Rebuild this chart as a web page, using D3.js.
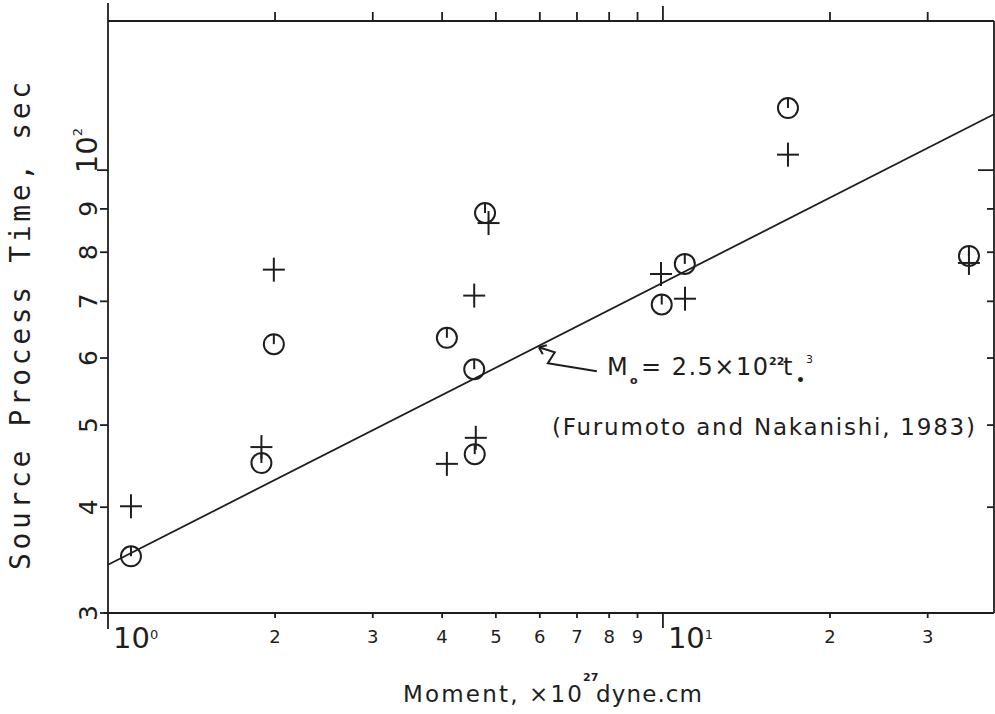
<!DOCTYPE html>
<html>
<head>
<meta charset="utf-8">
<script src="https://cdn.jsdelivr.net/npm/d3@7"></script>
<style>
  body { margin: 0; background: #fff; }
  svg { display: block; }
  text { fill: #1e1e1e; font-family: "DejaVu Sans", sans-serif; }
</style>
</head>
<body>
<svg width="995" height="714"></svg>
<script>
// -------------------- DATA --------------------
// moment in 1e27 dyne.cm, source process time in sec
const circleM = [1.10, 1.99, 1.89, 4.08, 4.57, 4.58, 4.78, 9.95, 10.95, 16.8, 35.6];
const circleT = [35.0, 62.3, 45.1, 63.4, 58.2, 46.2, 89.0, 69.4, 77.5, 118.4, 79.2];
const plusM = [1.10, 1.99, 1.89, 4.08, 4.57, 4.60, 4.85, 9.92, 10.96, 16.8, 35.6];
const plusT = [40.1, 76.3, 47.1, 45.0, 71.1, 48.3, 86.6, 75.4, 70.5, 104.3, 77.7];

// M0 = 2.5e22 t^3 line, end points
const fitM = [1, 39.5];
const fitT = [34.2, 116.4];

const xTicks = [1, 2, 3, 4, 5, 6, 7, 8, 9, 10, 20, 30];
const xLabels = ["10", "2", "3", "4", "5", "6", "7", "8", "9", "10", "2", "3"];
const yTicks = [30, 40, 50, 60, 70, 80, 90, 100];
const yLabels = ["3", "4", "5", "6", "7", "8", "9", "10"];

// -------------------- SCALES --------------------
const svg = d3.select("svg");
const ink = "#1e1e1e";
const L = 108, R = 994, T = 21, B = 613;

const x = d3.scaleLog().domain([1, 39.5]).range([L, R]);
const y = d3.scaleLog().domain([30, 150]).range([B, T]);

const isDecade = v => Math.abs(Math.log10(v) - Math.round(Math.log10(v))) < 1e-9;

// -------------------- FRAME --------------------
const g = svg.append("g").attr("stroke", ink).attr("fill", "none").attr("stroke-width", 1.8);
g.append("line").attr("x1", L).attr("x2", L).attr("y1", 3).attr("y2", B + 16);
g.append("line").attr("x1", L).attr("x2", R).attr("y1", T).attr("y2", T);
g.append("line").attr("x1", L - 4).attr("x2", R).attr("y1", B).attr("y2", B);
g.append("line").attr("x1", R).attr("x2", R).attr("y1", T).attr("y2", B);

// x ticks (bottom outward, top outward)
xTicks.forEach(v => {
  if (v === 1) return;
  const big = isDecade(v);
  g.append("line").attr("x1", x(v)).attr("x2", x(v)).attr("y1", B).attr("y2", B + (big ? 15 : 5));
  g.append("line").attr("x1", x(v)).attr("x2", x(v)).attr("y1", T).attr("y2", T - (big ? 15 : 9));
});

// y ticks (left outward, right inward)
yTicks.forEach(v => {
  const big = isDecade(v);
  g.append("line").attr("x1", L).attr("x2", L - (big ? 11 : 8)).attr("y1", y(v)).attr("y2", y(v));
  if (v !== 30) g.append("line").attr("x1", R).attr("x2", R - (big ? 16 : 7)).attr("y1", y(v)).attr("y2", y(v));
});

// -------------------- TICK LABELS --------------------
xTicks.forEach((v, i) => {
  if (isDecade(v)) {
    const t = svg.append("text").attr("x", x(v) + 5).attr("y", 648).style("font-size", "29px");
    t.append("tspan").text(xLabels[i]);
    t.append("tspan").attr("dy", -9).style("font-size", "13px").text(v === 1 ? "0" : "1");
  } else {
    svg.append("text").attr("x", x(v)).attr("y", 643).attr("text-anchor", "middle")
      .style("font-size", "18px").text(xLabels[i]);
  }
});

yTicks.forEach((v, i) => {
  const gl = svg.append("g").attr("transform", `translate(97,${isDecade(v) ? y(v) + 3 : y(v)}) rotate(-90)`);
  if (isDecade(v)) {
    const t = gl.append("text").style("font-size", "29px");
    t.append("tspan").text(yLabels[i]);
    t.append("tspan").attr("dy", -15).style("font-size", "13px").text("2");
  } else {
    gl.append("text").attr("text-anchor", "middle").style("font-size", "25px").text(yLabels[i]);
  }
});

// -------------------- AXIS TITLES --------------------
svg.append("g").attr("transform", "translate(30,570) rotate(-90)")
  .append("text")
  .style("font-family", "'DejaVu Sans Mono', monospace")
  .style("font-size", "28px")
  .attr("textLength", 488).attr("lengthAdjust", "spacing")
  .text("Source Process Time, sec");

const xt = svg.append("text").attr("y", 702).style("font-size", "23px");
xt.append("tspan").attr("x", 403).attr("textLength", 179).attr("lengthAdjust", "spacing").text("Moment, ×10");
xt.append("tspan").attr("x", 583).attr("y", 681).style("font-size", "11px").style("font-weight", "bold").text("27");
xt.append("tspan").attr("x", 596).attr("y", 702).attr("textLength", 106).attr("lengthAdjust", "spacing").text("dyne.cm");

// -------------------- FIT LINE --------------------
svg.append("line")
  .attr("x1", x(fitM[0])).attr("y1", y(fitT[0]))
  .attr("x2", x(fitM[1])).attr("y2", y(fitT[1]))
  .attr("stroke", ink).attr("stroke-width", 1.8);

// -------------------- POINTS --------------------
const circles = circleM.map((m, i) => ({ m, t: circleT[i] }));
const pluses = plusM.map((m, i) => ({ m, t: plusT[i] }));

const cg = svg.append("g").attr("stroke", ink).attr("fill", "none").attr("stroke-width", 2)
  .selectAll("g").data(circles).enter().append("g")
  .attr("transform", d => `translate(${x(d.m)},${y(d.t)})`);
cg.append("circle").attr("r", 10);
cg.append("line").attr("x1", 0).attr("x2", 0).attr("y1", -10).attr("y2", 0);

const pg = svg.append("g").attr("stroke", ink).attr("stroke-width", 2)
  .selectAll("g").data(pluses).enter().append("g")
  .attr("transform", d => `translate(${x(d.m)},${y(d.t)})`);
pg.append("line").attr("x1", -11).attr("x2", 11).attr("y1", 0).attr("y2", 0);
pg.append("line").attr("x1", 0).attr("x2", 0).attr("y1", -12).attr("y2", 12);

// -------------------- ANNOTATION --------------------
const tipM = 5.95;
const tipT = fitT[0] * Math.pow(tipM / fitM[0], Math.log(fitT[1] / fitT[0]) / Math.log(fitM[1] / fitM[0]));
const ax = x(tipM) + 1, ay = y(tipT) + 1;
svg.append("path")
  .attr("d", `M${ax},${ay} L${ax + 16},${ay + 5} L${ax + 9},${ay + 16} L${ax + 58},${ay + 24}
              M${ax},${ay} L${ax + 8},${ay - 2} M${ax},${ay} L${ax + 4},${ay + 7}`)
  .attr("stroke", ink).attr("stroke-width", 2).attr("fill", "none");

const eq = svg.append("text").attr("y", 375).style("font-size", "24px");
eq.append("tspan").attr("x", 607).text("M");
eq.append("tspan").attr("x", 630).attr("y", 384).style("font-size", "11px").style("font-weight", "bold").text("o");
eq.append("tspan").attr("x", 641).attr("y", 375).attr("textLength", 127).attr("lengthAdjust", "spacing").text("= 2.5×10");
eq.append("tspan").attr("x", 769).attr("y", 365).style("font-size", "11px").style("font-weight", "bold").text("22");
eq.append("tspan").attr("x", 783).attr("y", 375).text("t");
eq.append("tspan").attr("x", 796).attr("y", 385).style("font-size", "14px").style("font-weight", "bold").text("•");
eq.append("tspan").attr("x", 806).attr("y", 363).style("font-size", "11px").text("3");

svg.append("text").attr("x", 552).attr("y", 435).style("font-size", "23px")
  .attr("textLength", 423).attr("lengthAdjust", "spacing")
  .text("(Furumoto and Nakanishi, 1983)");
</script>
</body>
</html>
